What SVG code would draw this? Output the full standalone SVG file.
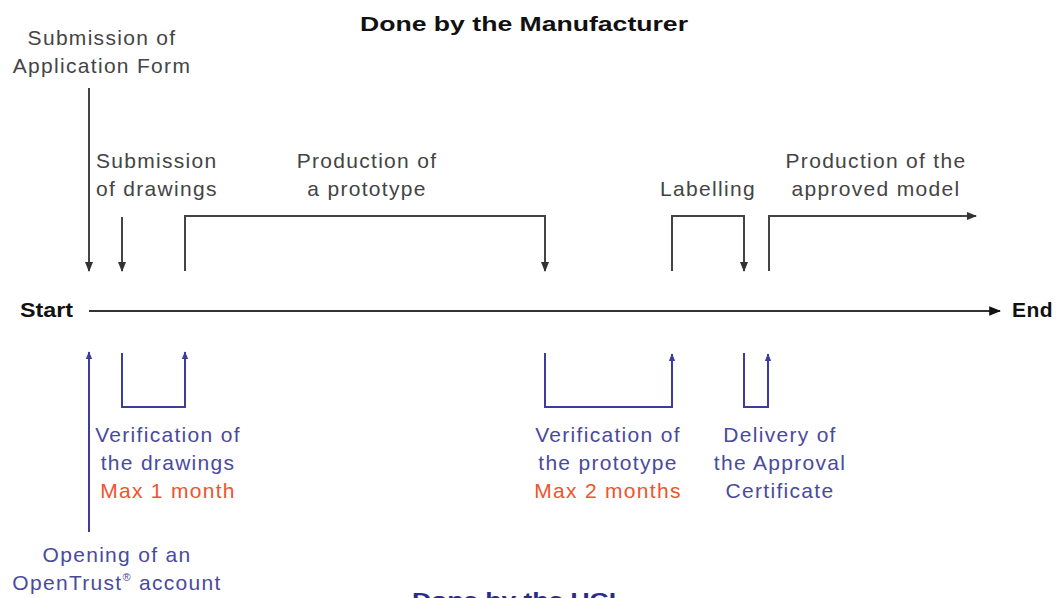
<svg xmlns="http://www.w3.org/2000/svg" width="1056" height="598" viewBox="0 0 1056 598">
<style>
.t{font-family:"Liberation Sans",Arial,sans-serif;font-size:21px;letter-spacing:1.3px}
.g{fill:#444}
.b{fill:#4a4a9c}
.r{fill:#f0532e}
.h{font-weight:bold;fill:#111}
.lg{fill:none;stroke:#444;stroke-width:2}
.lb{fill:none;stroke:#3c3c9c;stroke-width:2}
</style>
<defs>
<marker id="ag" viewBox="0 0 10 10" refX="9" refY="5" markerWidth="5" markerHeight="5" orient="auto" markerUnits="strokeWidth"><path d="M0,1 L10,5 L0,9 z" fill="#333"/></marker>
<marker id="ab" viewBox="0 0 10 10" refX="9" refY="5" markerWidth="4" markerHeight="4" orient="auto" markerUnits="strokeWidth"><path d="M0,1 L10,5 L0,9 z" fill="#3c3c9c"/></marker>
<marker id="am" viewBox="0 0 10 10" refX="9" refY="5" markerWidth="6" markerHeight="6" orient="auto" markerUnits="strokeWidth"><path d="M0,1 L10,5 L0,9 z" fill="#111"/></marker>
</defs>
<rect width="1056" height="598" fill="#fff"/>
<g id="connectors">
<line x1="89" y1="311" x2="1000" y2="311" stroke="#333" stroke-width="2" marker-end="url(#am)"/>
<line class="lg" x1="89" y1="88" x2="89" y2="271" marker-end="url(#ag)"/>
<line class="lg" x1="122" y1="217" x2="122" y2="271" marker-end="url(#ag)"/>
<polyline class="lg" points="185,271 185,216 545,216 545,271" marker-end="url(#ag)"/>
<polyline class="lg" points="672,271 672,216 744,216 744,271" marker-end="url(#ag)"/>
<polyline class="lg" points="769,271 769,216 976,216" marker-end="url(#ag)"/>
<line class="lb" x1="89" y1="532" x2="89" y2="352" marker-end="url(#ab)"/>
<polyline class="lb" points="122,353 122,407 185,407 185,352" marker-end="url(#ab)"/>
<polyline class="lb" points="545,353 545,407 672,407 672,354" marker-end="url(#ab)"/>
<polyline class="lb" points="744,353 744,407 768,407 768,354" marker-end="url(#ab)"/>
</g>
<g id="title-manufacturer"><text class="t h" x="360" y="31" font-size="23" textLength="328" lengthAdjust="spacingAndGlyphs" style="letter-spacing:0">Done by the Manufacturer</text></g>
<g id="start"><text class="t h" x="20" y="317" font-size="19" textLength="53" lengthAdjust="spacingAndGlyphs" style="letter-spacing:0">Start</text></g>
<g id="end"><text class="t h" x="1012" y="317" font-size="19" style="letter-spacing:0.5px">End</text></g>
<g id="application-form" class="t g" text-anchor="middle"><text x="102" y="45">Submission of</text><text x="102" y="73">Application Form</text></g>
<g id="submission-drawings" class="t g"><text x="96" y="168">Submission</text><text x="96" y="196">of drawings</text></g>
<g id="production-prototype" class="t g" text-anchor="middle"><text x="367" y="168">Production of</text><text x="367" y="196">a prototype</text></g>
<g id="labelling" class="t g" text-anchor="middle"><text x="708" y="196">Labelling</text></g>
<g id="production-approved" class="t g" text-anchor="middle"><text x="876" y="168">Production of the</text><text x="876" y="196">approved model</text></g>
<g id="verification-drawings" class="t" text-anchor="middle"><text class="b" x="168" y="442">Verification of</text><text class="b" x="168" y="470">the drawings</text><text class="r" x="168" y="498">Max 1 month</text></g>
<g id="opening-account" class="t b" text-anchor="middle"><text x="117" y="562">Opening of an</text><text x="117" y="590">OpenTrust<tspan font-size="11" dy="-9">®</tspan><tspan dy="9"> account</tspan></text></g>
<g id="verification-prototype" class="t" text-anchor="middle"><text class="b" x="608" y="442">Verification of</text><text class="b" x="608" y="470">the prototype</text><text class="r" x="608" y="498">Max 2 months</text></g>
<g id="delivery-certificate" class="t b" text-anchor="middle"><text x="780" y="442">Delivery of</text><text x="780" y="470">the Approval</text><text x="780" y="498">Certificate</text></g>
<g id="title-uci"><text class="t" x="412" y="607" font-size="22" font-weight="bold" fill="#2b2b8c" textLength="204" lengthAdjust="spacingAndGlyphs" style="letter-spacing:0">Done by the UCI</text></g>
</svg>
